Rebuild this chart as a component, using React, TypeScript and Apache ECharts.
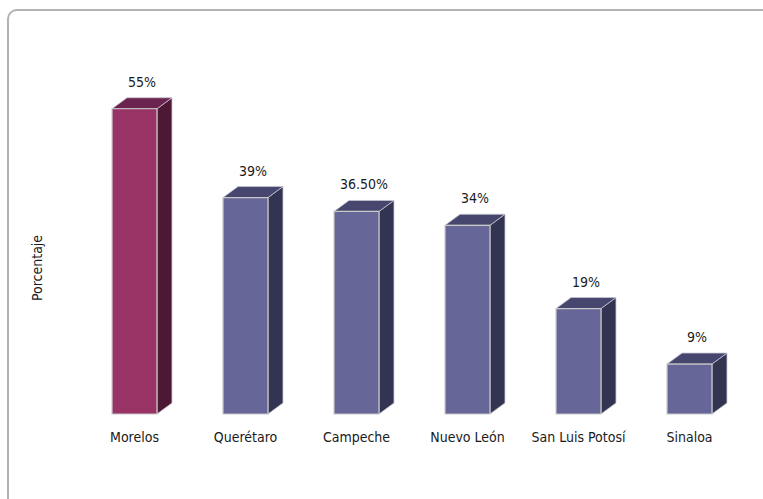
import React, { useEffect, useRef } from "react";
import * as echarts from "echarts";

const categories = ["Morelos", "Querétaro", "Campeche", "Nuevo León", "San Luis Potosí", "Sinaloa"];
const values = [55, 39, 36.5, 34, 19, 9];
const valueLabels = ["55%", "39%", "36.50%", "34%", "19%", "9%"];
const yAxisTitle = "Porcentaje";

const FONT = "'Liberation Sans Narrow', 'DejaVu Sans Condensed', sans-serif";
const DX = 15;
const DY = 11;

const PALETTE_HIGHLIGHT = { front: "#993366", top: "#6B2350", side: "#4D1833" };
const PALETTE_NORMAL = { front: "#666699", top: "#46466E", side: "#333352" };

export default function App() {
  const ref = useRef<HTMLDivElement>(null);
  useEffect(() => {
    const chart = echarts.init(ref.current!, null, { renderer: "svg" });
    const data = values.map((v, i) => [i, v]);
    chart.setOption({
      animation: false,
      backgroundColor: "#ffffff",
      grid: { left: 79, right: 18, top: 81, bottom: 85 },
      xAxis: {
        type: "category",
        data: categories,
        axisLine: { show: false },
        axisTick: { show: false },
        axisLabel: { interval: 0, margin: 16, fontSize: 14, color: "#1a1a1a", fontFamily: FONT },
      },
      yAxis: { type: "value", min: 0, max: 60, show: false },
      graphic: [
        {
          type: "rect",
          shape: { x: 8, y: 10, width: 820, height: 560, r: 9 },
          style: { fill: "none", stroke: "#b3b3b3", lineWidth: 2 },
          silent: true,
        },
        {
          type: "text",
          x: 37,
          y: 268,
          rotation: Math.PI / 2,
          style: {
            text: yAxisTitle,
            fontSize: 14,
            fontFamily: FONT,
            fill: "#1a1a1a",
            align: "center",
            verticalAlign: "middle",
          },
        },
      ],
      series: [
        {
          type: "custom",
          data,
          encode: { x: 0, y: 1 },
          renderItem: (params: any, api: any) => {
            const idx = api.value(0);
            const v = api.value(1);
            const top = api.coord([idx, v]);
            const base = api.coord([idx, 0]);
            const bw = api.size([1, 0])[0] * 0.405;
            const x0 = top[0] - bw / 2;
            const x1 = top[0] + bw / 2;
            const yt = top[1];
            const yb = base[1];
            const pal = params.dataIndex === 0 ? PALETTE_HIGHLIGHT : PALETTE_NORMAL;
            const edge = "#c4c4d0";
            return {
              type: "group",
              children: [
                {
                  type: "polygon",
                  shape: { points: [[x1, yt], [x1 + DX, yt - DY], [x1 + DX, yb - DY], [x1, yb]] },
                  style: { fill: pal.side, stroke: edge, lineWidth: 0.8 },
                },
                {
                  type: "polygon",
                  shape: { points: [[x0, yt], [x0 + DX, yt - DY], [x1 + DX, yt - DY], [x1, yt]] },
                  style: { fill: pal.top, stroke: edge, lineWidth: 0.8 },
                },
                {
                  type: "rect",
                  shape: { x: x0, y: yt, width: bw, height: yb - yt },
                  style: { fill: pal.front, stroke: "#c8c8c8", lineWidth: 1.2 },
                },
                {
                  type: "text",
                  x: (x0 + x1 + DX) / 2,
                  y: yt - DY - 16,
                  style: {
                    text: valueLabels[params.dataIndex],
                    fontSize: 14,
                    fontFamily: FONT,
                    fill: "#1a1a1a",
                    align: "center",
                    verticalAlign: "middle",
                  },
                },
              ],
            };
          },
        },
      ],
    });
    return () => chart.dispose();
  }, []);
  return (
    <div
      ref={ref}
      style={{ position: "absolute", left: 0, top: 0, width: 763, height: 499 }}
    />
  );
}
